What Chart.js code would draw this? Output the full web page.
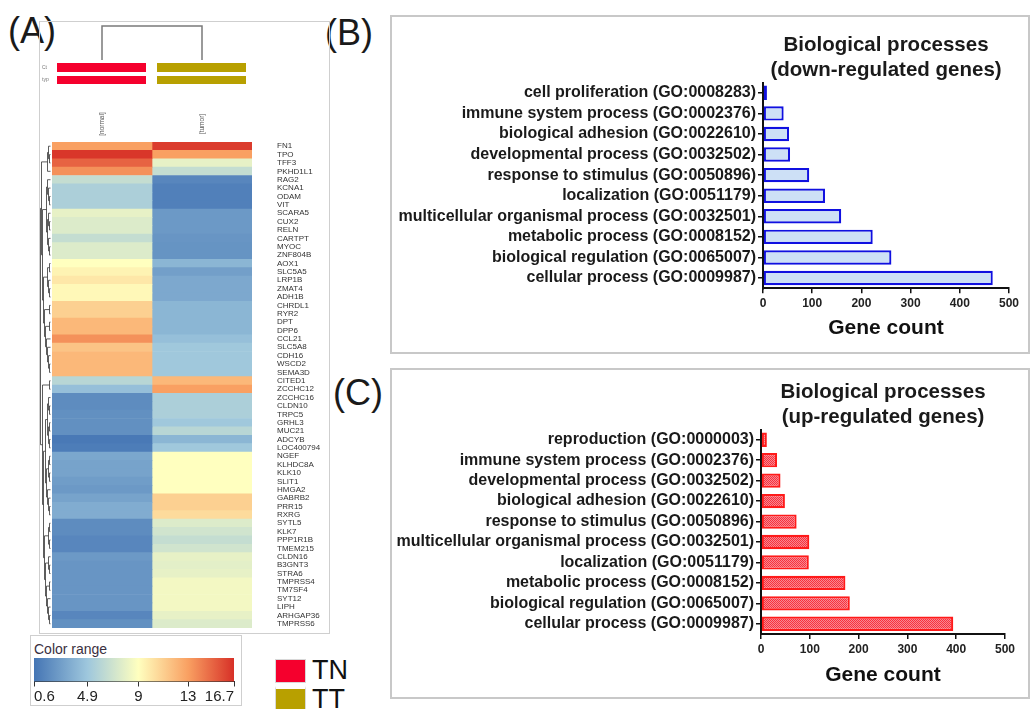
<!DOCTYPE html>
<html>
<head>
<meta charset="utf-8">
<script src="https://cdn.jsdelivr.net/npm/chart.js@4.4.1/dist/chart.umd.min.js"></script>
<style>
  body { margin:0; background:#fff; width:1035px; height:709px; position:relative; overflow:hidden;
         font-family: Arial, "Liberation Sans", sans-serif; }
  canvas, .box, .txt { position:absolute; }
  .box { box-sizing:border-box; }
  .tag { position:absolute; font-size:36px; color:#1a1a1a; line-height:1; }
</style>
</head>
<body>
<div class="tag" style="left:8px;top:13px">(A)</div>
<div class="tag" style="left:325px;top:15px">(B)</div>
<div class="tag" style="left:333px;top:375px">(C)</div>

<div class="box" style="left:39px;top:21px;width:291px;height:613px;border:1px solid #cfcfcf"></div>
<canvas id="heat" width="292" height="612" style="left:38px;top:22px"></canvas>

<div class="box" style="left:30px;top:635px;width:212px;height:71px;border:1px solid #cfcfcf;background:#fff"></div>
<div class="txt" style="left:34px;top:641px;font-size:14px;color:#3a3040">Color range</div>
<canvas id="range" width="212" height="69" style="left:30px;top:636px"></canvas>

<div class="box" style="left:275px;top:659px;width:31px;height:24px;background:#f5002d;border:1px solid #d8d8d8"></div>
<div class="txt" style="left:312px;top:655px;font-size:27px;color:#111">TN</div>
<div class="box" style="left:275px;top:686px;width:31px;height:24px;background:#b8a000;border:1px solid #d8d8d8;border-top:3px solid #fff"></div>
<div class="txt" style="left:312px;top:684px;font-size:27px;color:#111">TT</div>

<div class="box" style="left:390px;top:15px;width:640px;height:339px;border:2px solid #c8c8c8"></div>
<canvas id="down" width="640" height="338" style="left:390px;top:15px"></canvas>
<div class="box" style="left:390px;top:368px;width:640px;height:331px;border:2px solid #c8c8c8"></div>
<canvas id="up" width="640" height="330" style="left:390px;top:368px"></canvas>

<script>
// ---- heatmap data (panel A) ----
const genes = ['FN1','TPO','TFF3','PKHD1L1','RAG2','KCNA1','ODAM','VIT','SCARA5','CUX2','RELN','CARTPT',
  'MYOC','ZNF804B','AOX1','SLC5A5','LRP1B','ZMAT4','ADH1B','CHRDL1','RYR2','DPT','DPP6','CCL21','SLC5A8',
  'CDH16','WSCD2','SEMA3D','CITED1','ZCCHC12','ZCCHC16','CLDN10','TRPC5','GRHL3','MUC21','ADCYB','LOC400794',
  'NGEF','KLHDC8A','KLK10','SLIT1','HMGA2','GABRB2','PRR15','RXRG','SYTL5','KLK7','PPP1R1B','TMEM215',
  'CLDN16','B3GNT3','STRA6','TMPRSS4','TM7SF4','SYT12','LIPH','ARHGAP36','TMPRSS6'];
const columns = ['[normal]','[tumor]'];
const normalExpr = [13,16.5,15,13.5,6.5,5.5,5.5,5.5,8,7.5,7.5,6.5,7.5,7.5,9,9.5,10,9.3,9.3,11,11,12,12,13.5,11.5,
  12,12,12,6,4.5,1.8,1.8,2,2,2,0.8,1,3.2,3,3,2.7,2.5,3,3.5,3.5,1.8,1.8,1.5,1.5,2.5,2.3,2.3,2.3,2.3,2.3,2.3,1.5,2];
const tumorExpr = [16.3,13,8,6.5,1.5,1.2,1.2,1.2,2.5,2.5,2.5,2.3,2.2,2.2,4,2.8,3.3,3.3,3.3,4,4,4,4,4.5,5,
  5,5,5,12,13,5.5,5.5,5.5,5,6,4,5,9,9,9,9,9,11,11,10.5,7.5,7,6.5,7,8,7.8,8,8.5,8.5,8.5,8.5,8,7.5];
const rangeTicks = [0.6, 4.9, 9, 13, 16.7];

// ---- GO bar data (panels B, C) ----
const downLabels = ['cell proliferation (GO:0008283)','immune system process (GO:0002376)',
  'biological adhesion (GO:0022610)','developmental process (GO:0032502)','response to stimulus (GO:0050896)',
  'localization (GO:0051179)','multicellular organismal process (GO:0032501)','metabolic process (GO:0008152)',
  'biological regulation (GO:0065007)','cellular process (GO:0009987)'];
const downCounts = [8, 42, 53, 55, 94, 126, 159, 223, 261, 467];
const upLabels = ['reproduction (GO:0000003)','immune system process (GO:0002376)',
  'developmental process (GO:0032502)','biological adhesion (GO:0022610)','response to stimulus (GO:0050896)',
  'multicellular organismal process (GO:0032501)','localization (GO:0051179)','metabolic process (GO:0008152)',
  'biological regulation (GO:0065007)','cellular process (GO:0009987)'];
const upCounts = [12, 33, 40, 49, 73, 99, 98, 173, 182, 394];

const FONT = 'Arial, "Liberation Sans", sans-serif';
const ramp = ['#4575b4','#9ec7dd','#ffffbf','#f9a062','#d73027'];
const groupColors = ['#f5002d','#b8a000'];

function hex2rgb(h){ return [1,3,5].map(i=>parseInt(h.substr(i,2),16)); }
function heatColor(v){
  let i = 0;
  while (i < rangeTicks.length - 2 && v > rangeTicks[i+1]) i++;
  let t = (v - rangeTicks[i]) / (rangeTicks[i+1] - rangeTicks[i]);
  t = Math.max(0, Math.min(1, t));
  const a = hex2rgb(ramp[i]), b = hex2rgb(ramp[i+1]);
  const c = a.map((x,k)=>Math.round(x + (b[k]-x)*t));
  return 'rgb(' + c.join(',') + ')';
}

// row dendrogram (approximate shape), leaves are row indexes
const rowTree = [
  [[[0,[1,2]],3], [[[4,[5,[6,7]]],[[8,[9,10]],[11,[12,13]]]],
                   [[[14,15],[16,[17,18]]],[[19,20],[[21,22],[23,[24,[25,[26,27]]]]]]]]],
  [[28,29], [[[[30,[31,32]],[[33,34],[35,36]]], [[[37,38],[39,40]],[41,[42,[43,44]]]]],
             [[[45,46],[47,48]],[[49,[50,51]],[[52,53],[54,[55,[56,57]]]]]]]]
];

function drawTree(ctx, node, yOf, x0, step){
  if (typeof node === 'number') return {y: yOf(node), h: 0};
  const a = drawTree(ctx, node[0], yOf, x0, step);
  const b = drawTree(ctx, node[1], yOf, x0, step);
  const h = Math.max(a.h, b.h) + 1;
  const x = x0 - h*step;
  ctx.beginPath();
  ctx.moveTo(x0 - a.h*step, a.y); ctx.lineTo(x, a.y);
  ctx.lineTo(x, b.y); ctx.lineTo(x0 - b.h*step, b.y);
  ctx.stroke();
  return {y: (a.y+b.y)/2, h};
}

const heatDecor = {
  id: 'heatDecor',
  afterDraw(chart){
    const ctx = chart.ctx, xs = chart.scales.x, ys = chart.scales.y, area = chart.chartArea;
    ctx.save();
    // row dendrogram
    ctx.strokeStyle = '#333'; ctx.lineWidth = 0.8;
    drawTree(ctx, rowTree, i => ys.getPixelForValue(i), area.left - 1.5, 1.0);
    // column dendrogram
    const c0 = xs.getPixelForValue(0.5), c1 = xs.getPixelForValue(1.5);
    ctx.strokeStyle = '#7a7a7a'; ctx.lineWidth = 1.5;
    ctx.beginPath();
    ctx.moveTo(c0, 38); ctx.lineTo(c0, 4); ctx.lineTo(c1, 4); ctx.lineTo(c1, 38);
    ctx.stroke();
    // group annotation bars + column labels
    [0,1].forEach(c => {
      ctx.fillStyle = groupColors[c];
      const l = xs.getPixelForValue(c + 0.05), r = xs.getPixelForValue(c + 0.94);
      ctx.fillRect(l, 41, r - l, 9);
      ctx.fillRect(l, 54, r - l, 8);
      ctx.save();
      ctx.translate(xs.getPixelForValue(c + 0.5), 102);
      ctx.rotate(-Math.PI/2);
      ctx.fillStyle = '#555'; ctx.font = '6.5px ' + FONT;
      ctx.textAlign = 'center'; ctx.textBaseline = 'middle';
      ctx.fillText(columns[c], 0, 0);
      ctx.restore();
    });
    ctx.fillStyle = '#777'; ctx.font = '5px ' + FONT; ctx.textBaseline = 'middle';
    ctx.fillText('Ct', 4, 46);
    ctx.fillText('typ', 4, 58);
    ctx.restore();
  }
};

new Chart(document.getElementById('heat'), {
  type: 'bar',
  data: {
    labels: genes,
    datasets: [
      {label: 'normal', data: genes.map(() => [0, 1]), backgroundColor: normalExpr.map(heatColor)},
      {label: 'tumor', data: genes.map(() => [1, 2]), backgroundColor: tumorExpr.map(heatColor)}
    ]
  },
  options: {
    indexAxis: 'y', responsive: false, animation: false,
    datasets: {bar: {grouped: false, barPercentage: 1, categoryPercentage: 1, borderWidth: 0}},
    layout: {autoPadding: false, padding: {left: 14, top: 120, bottom: 6, right: 0}},
    plugins: {legend: {display: false}, tooltip: {enabled: false}},
    scales: {
      x: {type: 'linear', min: 0, max: 2, display: false},
      y: {position: 'right',
          grid: {display: true, drawOnChartArea: false, drawTicks: true, tickLength: 25, color: 'rgba(0,0,0,0)'},
          border: {display: false},
          ticks: {autoSkip: false, padding: 0, color: '#333', font: {size: 8, family: FONT}},
          afterFit(s){ s.width = 78; }}
    }
  },
  plugins: [heatDecor]
});

// ---- color range legend ----
new Chart(document.getElementById('range'), {
  type: 'bar',
  data: {labels: [''], datasets: [{
    data: [[rangeTicks[0], rangeTicks[rangeTicks.length-1]]],
    backgroundColor(ctx){
      const chart = ctx.chart, a = chart.chartArea;
      if (!a) return ramp[0];
      const xs = chart.scales.x;
      const g = chart.ctx.createLinearGradient(a.left, 0, a.right, 0);
      rangeTicks.forEach((v,i) => g.addColorStop((xs.getPixelForValue(v) - a.left)/(a.right - a.left), ramp[i]));
      return g;
    },
    borderWidth: 0, barPercentage: 1, categoryPercentage: 1
  }]},
  options: {
    indexAxis: 'y', responsive: false, animation: false,
    layout: {autoPadding: false, padding: {left: 4, right: 8, top: 22, bottom: 0}},
    plugins: {legend: {display: false}, tooltip: {enabled: false}},
    scales: {
      y: {display: false},
      x: {type: 'linear', min: rangeTicks[0], max: rangeTicks[rangeTicks.length-1],
          afterBuildTicks(s){ s.ticks = rangeTicks.map(v => ({value: v})); },
          grid: {drawOnChartArea: false, tickLength: 5, color: '#333'},
          border: {color: '#333'},
          ticks: {align: 'inner', autoSkip: false, maxRotation: 0, padding: 1, color: '#222',
                  font: {size: 15, family: FONT}}}
    }
  }
});

// ---- GO bar charts ----
function redPattern(){
  const p = document.createElement('canvas');
  p.width = 2; p.height = 2;
  const c = p.getContext('2d');
  c.fillStyle = '#f48a92'; c.fillRect(0,0,2,2);
  c.fillStyle = '#fb2f3c'; c.fillRect(0,0,1,1); c.fillRect(1,1,1,1);
  return c.createPattern(p, 'repeat');
}

function goChart(id, labels, counts, title, fill, stroke, geo){
  return new Chart(document.getElementById(id), {
    type: 'bar',
    data: {labels, datasets: [{data: counts, backgroundColor: fill, borderColor: stroke,
      borderWidth: 2.2, borderSkipped: false, barPercentage: 0.7, categoryPercentage: 1}]},
    options: {
      indexAxis: 'y', responsive: false, animation: false,
      layout: {autoPadding: false, padding: {left: 0, right: geo.right, top: 0, bottom: 0}},
      plugins: {
        legend: {display: false}, tooltip: {enabled: false},
        title: {display: true, text: title, fullSize: false, color: '#1a1a1a',
                font: {size: 20.5, weight: 'bold', family: FONT, lineHeight: 1.22},
                padding: {top: geo.titleTop, bottom: geo.titleBottom}}
      },
      scales: {
        y: {grid: {drawOnChartArea: false, tickLength: 5, color: '#111', lineWidth: 1.5, offset: false},
            border: {color: '#111', width: 2},
            ticks: {autoSkip: false, color: '#1a1a1a', padding: 2, font: {size: 16, weight: 'bold', family: FONT}},
            afterFit(s){ s.width = geo.left; }},
        x: {min: 0, max: 500,
            grid: {drawOnChartArea: false, tickLength: 5, color: '#111', lineWidth: 1.5},
            border: {color: '#111', width: 2},
            ticks: {stepSize: 100, color: '#222', padding: 3, font: {size: 12, weight: 'bold', family: FONT}},
            title: {display: true, text: 'Gene count', color: '#111',
                    font: {size: 21, weight: 'bold', family: FONT}, padding: {top: 0, bottom: geo.gcBottom}},
            afterFit(s){ s.height = geo.bottom; }}
      }
    }
  });
}

goChart('down', downLabels, downCounts, ['Biological processes', '(down-regulated genes)'],
  '#cde0f6', '#1010e0', {left: 373, right: 21, bottom: 64.7, titleTop: 17.5, titleBottom: 0, gcBottom: 12.4});
goChart('up', upLabels, upCounts, ['Biological processes', '(up-regulated genes)'],
  redPattern(), '#ff1a1a', {left: 371, right: 25, bottom: 64, titleTop: 11.5, titleBottom: 0, gcBottom: 10.4});
</script>
</body>
</html>
